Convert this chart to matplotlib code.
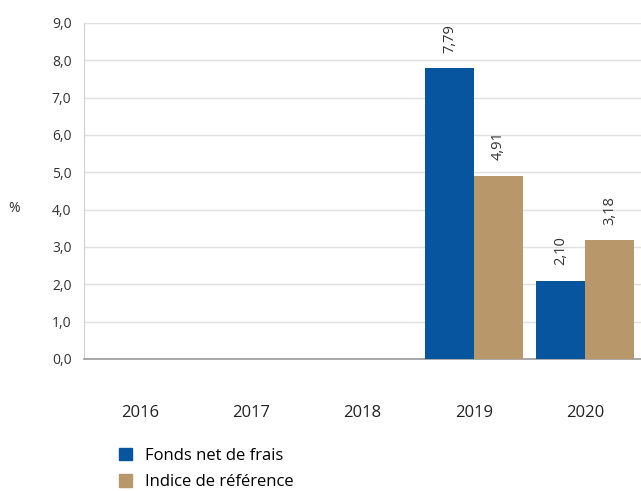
import matplotlib
matplotlib.use("Agg")
import matplotlib.pyplot as plt
import numpy as np
from matplotlib.patches import Patch

plt.rcParams['font.family'] = ['Open Sans', 'DejaVu Sans']

years = ["2016", "2017", "2018", "2019", "2020"]
fonds = [np.nan, np.nan, np.nan, 7.79, 2.10]
indice = [np.nan, np.nan, np.nan, 4.91, 3.18]
series_names = ["Fonds net de frais", "Indice de référence"]
colors = ["#08559f", "#b8986a"]

fig = plt.figure(figsize=(6.41, 4.91), dpi=100)
ax = fig.add_axes([84/641, 1-359/491, (641-84)/641, (359-23)/491])

x = np.arange(len(years))
w = 0.44
for i, (vals, c) in enumerate(zip([fonds, indice], colors)):
    off = (i - 0.5) * w
    for xi, v in zip(x, vals):
        if np.isnan(v):
            continue
        ax.bar(xi + off, v, w, color=c, zorder=3)
        ax.annotate(f"{v:.2f}".replace(".", ","), (xi + off, v), xytext=(0, 11),
                    textcoords="offset points", rotation=90, ha="center", va="bottom",
                    fontsize=10.5, color="#333333")

ax.set_xlim(-0.5, len(years) - 0.5)
ax.set_ylim(0, 9)
ax.set_yticks(np.arange(0, 9.1, 1))
ax.set_yticklabels([f"{t:.1f}".replace(".", ",") for t in np.arange(0, 9.1, 1)])
ax.grid(axis="y", color="#e0e0e0", linewidth=1, zorder=0)
ax.tick_params(axis="y", length=0, pad=9, labelsize=10, labelcolor="#333333")
ax.set_xticks(x)
ax.set_xticklabels(years)
ax.tick_params(axis="x", length=0, pad=33, labelsize=12, labelcolor="#222222")
for s in ["top", "right"]:
    ax.spines[s].set_visible(False)
ax.spines["left"].set_color("#d0d0d0")
ax.spines["bottom"].set_color("#999999")
ax.spines["bottom"].set_linewidth(1.2)

fig.text(14/641, 1-208/491, "%", fontsize=10, color="#333333", ha="center", va="center")

handles = [Patch(color=c, label=n) for c, n in zip(colors, series_names)]
fig.legend(handles=handles, loc="upper left", bbox_to_anchor=(112/641, 1-441/491),
           frameon=False, fontsize=12, handlelength=0.8, handleheight=0.8,
           handletextpad=0.8, labelspacing=0.6, borderaxespad=0)

fig.savefig("out.png", dpi=100)
